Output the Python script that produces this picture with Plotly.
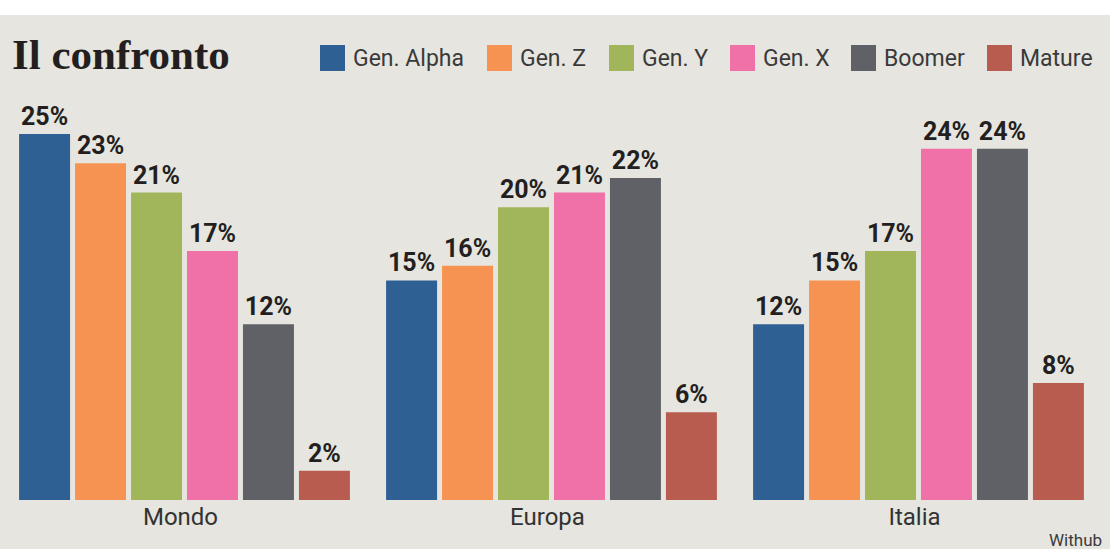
import plotly.graph_objects as go

# ---- data ----
regions = ["Mondo", "Europa", "Italia"]
series_names = ["Gen. Alpha", "Gen. Z", "Gen. Y", "Gen. X", "Boomer", "Mature"]
gen_alpha = [25, 15, 12]
gen_z = [23, 16, 15]
gen_y = [21, 20, 17]
gen_x = [17, 21, 24]
boomer = [12, 22, 24]
mature = [2, 6, 8]
values = [gen_alpha, gen_z, gen_y, gen_x, boomer, mature]

# ---- styles ----
colors = ["#2e6094", "#f79352", "#a1b55a", "#ef71a8", "#606166", "#b75c4f"]
BG = "#e6e5df"
W, H = 1110, 549
M_T, M_B = 100, 49
PLOT_H = H - M_T - M_B

def py(ypx):
    """pixel y (from top) -> paper y"""
    return (H - M_B - ypx) / PLOT_H

def px(xpx):
    return xpx / W

fig = go.Figure()
for name, vals, col in zip(series_names, values, colors):
    fig.add_trace(go.Bar(
        x=regions, y=vals, name=name, marker_color=col, marker_line_width=0,
        text=[f"{v}%" for v in vals], textposition="outside",
        constraintext="none", cliponaxis=False,
        textfont=dict(family="Roboto", size=25, color="#231f20", weight="bold"),
        showlegend=False,
    ))

# custom legend (large squares)
legend_sq_x = [320, 487, 609, 730, 851, 987]
shapes = [dict(type="rect", xref="paper", yref="paper",
               x0=0, x1=1, y0=py(15), y1=py(0), fillcolor="white",
               line_width=0, layer="below")]
annotations = []
for name, col, x0 in zip(series_names, colors, legend_sq_x):
    shapes.append(dict(type="rect", xref="paper", yref="paper",
                       x0=px(x0), x1=px(x0 + 25), y0=py(71), y1=py(45),
                       fillcolor=col, line_width=0))
    annotations.append(dict(text=name, xref="paper", yref="paper",
                            x=px(x0 + 31), y=py(58), xanchor="left", yanchor="middle",
                            showarrow=False,
                            font=dict(family="Roboto", size=23, color="#3a3a3a")))

annotations.append(dict(text="<b>Il confronto</b>", xref="paper", yref="paper",
                        x=px(10), y=py(55), xanchor="left", yanchor="middle",
                        showarrow=False,
                        font=dict(family="Liberation Serif", size=43, color="#231f20")))
annotations.append(dict(text="Withub", xref="paper", yref="paper",
                        x=px(1104), y=py(540), xanchor="right", yanchor="middle",
                        showarrow=False,
                        font=dict(family="Roboto", size=17, color="#3a3a3a")))

x_left = -184.5 / 367
fig.update_layout(
    width=W, height=H,
    barmode="group", bargap=0.085, bargroupgap=0.089,
    paper_bgcolor=BG, plot_bgcolor=BG,
    margin=dict(l=0, r=0, t=M_T, b=M_B, pad=0),
    xaxis=dict(range=[x_left, x_left + W / 367], showgrid=False, zeroline=False,
               showline=False, ticks="", ticklabelshift=-4,
               tickfont=dict(family="Roboto", size=24, color="#333333")),
    yaxis=dict(range=[0, PLOT_H / 14.64], visible=False, showgrid=False, zeroline=False),
    shapes=shapes, annotations=annotations,
)

fig.write_html(
    "out.html",
    config={"displayModeBar": False},
    post_script="document.body.style.margin='0';document.body.style.padding='0';"
                "document.body.style.overflow='hidden';",
)
